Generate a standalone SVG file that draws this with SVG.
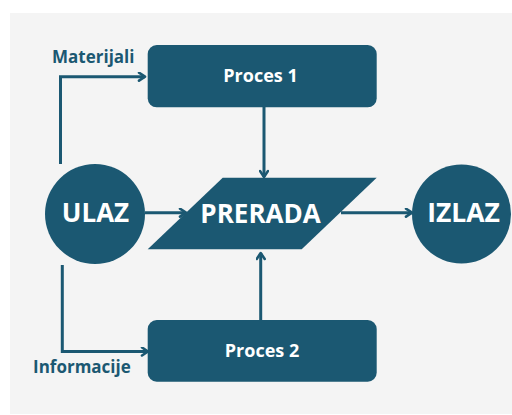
<svg xmlns="http://www.w3.org/2000/svg" width="512" height="415" viewBox="0 0 512 415">
<defs>
<marker id="ah" viewBox="0 0 10 10" refX="8" refY="5" markerWidth="10" markerHeight="10" markerUnits="userSpaceOnUse" orient="auto">
<polyline points="2,1 8,5 2,9" fill="none" stroke="#1b5872" stroke-width="2.6" stroke-linecap="round" stroke-linejoin="round"/>
</marker>
</defs>
<style>
.n{fill:#1b5872}
.t{fill:#ffffff;font-family:"Open Sans","Noto Sans","DejaVu Sans",sans-serif;font-weight:700;text-anchor:middle}
.l{fill:#1b5872;font-family:"Open Sans","Noto Sans","DejaVu Sans",sans-serif;font-weight:700}
.c{fill:none;stroke:#1b5872;stroke-width:3;marker-end:url(#ah)}
</style>
<rect width="512" height="415" fill="#ffffff"/>
<rect x="10" y="13" width="502" height="401" fill="#f4f4f4"/>
<g id="connectors">
<polyline class="c" points="60.5,164 60.5,76.7 145,76.7"/>
<polyline class="c" points="62.3,265 62.3,351.5 148,351.5"/>
<line class="c" x1="264" y1="107" x2="264" y2="177"/>
<line class="c" x1="260.7" y1="320" x2="260.7" y2="253"/>
<line class="c" x1="145" y1="212.7" x2="186" y2="212.7"/>
<line class="c" x1="341" y1="212.7" x2="412" y2="212.7"/>
</g>
<g id="proces1">
<rect class="n" x="147.7" y="45" width="229" height="62.3" rx="9"/>
<text class="t" x="260.5" y="82" font-size="18">Proces 1</text>
</g>
<g id="proces2">
<rect class="n" x="147.7" y="320" width="229" height="61.7" rx="9"/>
<text class="t" x="262" y="357" font-size="18">Proces 2</text>
</g>
<g id="ulaz">
<circle class="n" cx="95" cy="214" r="50"/>
<text class="t" x="95.5" y="221.5" font-size="26">ULAZ</text>
</g>
<g id="prerada">
<polygon class="n" points="222.7,177.7 376.7,177.7 301.7,249.3 147.7,249.3"/>
<text class="t" x="260.5" y="223" font-size="26">PRERADA</text>
</g>
<g id="izlaz">
<circle class="n" cx="461.5" cy="214" r="49.5"/>
<text class="t" x="463.5" y="222" font-size="26.5">IZLAZ</text>
</g>
<g id="labels">
<text class="l" x="52" y="62.5" font-size="17">Materijali</text>
<text class="l" x="33" y="373" font-size="17">Informacije</text>
</g>
</svg>
